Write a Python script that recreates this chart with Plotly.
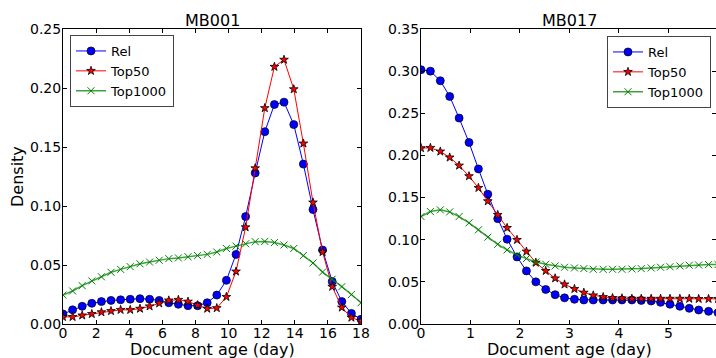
import plotly.graph_objects as go

# ---------------- data ----------------
age_mb001 = [0.0, 0.58, 1.16, 1.74, 2.32, 2.90, 3.48, 4.06, 4.65, 5.23, 5.81, 6.39,
             6.97, 7.55, 8.13, 8.71, 9.29, 9.87, 10.45, 11.03, 11.61, 12.19, 12.77,
             13.35, 13.94, 14.52, 15.10, 15.68, 16.26, 16.84, 17.42, 18.0]
rel_mb001 = [0.0085, 0.012, 0.015, 0.0175, 0.019, 0.020, 0.0205, 0.021, 0.0215, 0.021,
             0.020, 0.018, 0.0167, 0.0155, 0.0155, 0.018, 0.0245, 0.037, 0.059, 0.091,
             0.128, 0.163, 0.186, 0.188, 0.169, 0.1355, 0.097, 0.0627, 0.036, 0.019,
             0.009, 0.004]
top50_mb001 = [0.006, 0.006, 0.0073, 0.0085, 0.010, 0.011, 0.012, 0.012, 0.013, 0.015,
               0.0175, 0.020, 0.0205, 0.019, 0.016, 0.013, 0.0135, 0.023, 0.0445, 0.082,
               0.132, 0.183, 0.218, 0.224, 0.199, 0.153, 0.103, 0.061, 0.0316, 0.014,
               0.0054, 0.0025]
top1000_mb001 = [0.0245, 0.028, 0.0325, 0.0365, 0.040, 0.0438, 0.0463, 0.0486, 0.051,
                 0.0525, 0.054, 0.0554, 0.056, 0.057, 0.058, 0.059, 0.061, 0.064, 0.066,
                 0.068, 0.0698, 0.070, 0.069, 0.067, 0.064, 0.058, 0.0517, 0.044, 0.038,
                 0.0316, 0.025, 0.018]

age_mb017 = [0.0, 0.19, 0.39, 0.58, 0.77, 0.97, 1.16, 1.35, 1.55, 1.74, 1.94, 2.13,
             2.32, 2.52, 2.71, 2.90, 3.10, 3.29, 3.48, 3.68, 3.87, 4.06, 4.26, 4.45,
             4.65, 4.84, 5.03, 5.23, 5.42, 5.61, 5.81, 6.0]
rel_mb017 = [0.3017, 0.300, 0.2886, 0.270, 0.2443, 0.2154, 0.184, 0.154, 0.125, 0.1006,
             0.0796, 0.063, 0.050, 0.041, 0.0348, 0.031, 0.0293, 0.0285, 0.0285, 0.0285,
             0.0285, 0.0285, 0.0285, 0.028, 0.0273, 0.0257, 0.0234, 0.021, 0.0186,
             0.0166, 0.015, 0.0135]
top50_mb017 = [0.2087, 0.209, 0.2047, 0.1976, 0.188, 0.1754, 0.1615, 0.1457, 0.1295,
               0.114, 0.0998, 0.086, 0.0728, 0.063, 0.0542, 0.047, 0.0416, 0.0372, 0.034,
               0.032, 0.0309, 0.0305, 0.030, 0.030, 0.030, 0.030, 0.030, 0.030, 0.030,
               0.0298, 0.0298, 0.0298]
top1000_mb017 = [0.1275, 0.1334, 0.1354, 0.133, 0.1275, 0.120, 0.1117, 0.103, 0.0946,
                 0.0879, 0.082, 0.0776, 0.0736, 0.0709, 0.0689, 0.0673, 0.0665, 0.0657,
                 0.0649, 0.0649, 0.0649, 0.0649, 0.0653, 0.0657, 0.0665, 0.0673, 0.068,
                 0.0689, 0.0697, 0.070, 0.0705, 0.0705]

series_names = ["Rel", "Top50", "Top1000"]
panel_titles = ["MB001", "MB017"]
x_label = "Document age (day)"
y_label = "Density"

# ---------------- figure ----------------
W, H = 716, 358
FONT = "DejaVu Sans"
fig = go.Figure()

styles = [
    dict(mode="lines+markers", line=dict(color="#0000ff", width=1),
         marker=dict(symbol="circle", size=8, color="#0000ff",
                     line=dict(color="black", width=0.7))),
    dict(mode="lines+markers", line=dict(color="#ff0000", width=1),
         marker=dict(symbol="star", size=6.5, color="#ff0000",
                     line=dict(color="black", width=0.8))),
    dict(mode="lines+markers", line=dict(color="rgba(0,128,0,0.75)", width=1.5),
         marker=dict(symbol="x-thin-open", size=7, color="#008000",
                     line=dict(color="#008000", width=1))),
]

panels = [
    (age_mb001, [rel_mb001, top50_mb001, top1000_mb001], "x", "y", "legend"),
    (age_mb017, [rel_mb017, top50_mb017, top1000_mb017], "x2", "y2", "legend2"),
]
for xs, ys_list, xa, ya, lg in panels:
    for name, ys, st in zip(series_names, ys_list, styles):
        fig.add_trace(go.Scatter(x=xs, y=ys, name=name, xaxis=xa, yaxis=ya,
                                 legend=lg, **st))

# plot-area pixel geometry
L1, R1 = 63, 361
L2, R2 = 421, 716
T, B = 29, 324
ph = B - T

def px(xp):
    return xp / W

def py(yp):
    return (B - yp) / ph

axis_common = dict(showline=True, linecolor="black", linewidth=1, mirror="ticks",
                   ticks="inside", ticklen=4, tickcolor="black", tickwidth=1,
                   showgrid=False, zeroline=False,
                   tickfont=dict(family=FONT, size=14, color="black"))

fig.update_layout(
    width=W, height=H,
    margin=dict(l=0, r=0, t=T, b=H - B, autoexpand=False),
    paper_bgcolor="white", plot_bgcolor="white",
    font=dict(family=FONT, color="black"),
    xaxis=dict(domain=[px(L1), px(R1)], range=[0, 18], dtick=2, anchor="y",
               ticklabelstandoff=-4, **axis_common),
    yaxis=dict(domain=[0, 1], range=[0, 0.25], dtick=0.05, tickformat=".2f",
               anchor="x", ticklabelstandoff=-2, **axis_common),
    xaxis2=dict(domain=[px(L2), 1.0], range=[0, 5.96], dtick=1, anchor="y2",
                ticklabelstandoff=-4, **axis_common),
    yaxis2=dict(domain=[0, 1], range=[0, 0.35], dtick=0.05, tickformat=".2f",
                anchor="x2", ticklabelstandoff=-2, **axis_common),
    legend=dict(x=px(70), y=py(35), xanchor="left", yanchor="top",
                bgcolor="white", bordercolor="#444", borderwidth=1,
                font=dict(family=FONT, size=13, color="black"),
                tracegroupgap=0),
    legend2=dict(x=px(607), y=py(36), xanchor="left", yanchor="top",
                 bgcolor="white", bordercolor="#444", borderwidth=1,
                 font=dict(family=FONT, size=13, color="black"),
                 tracegroupgap=0),
    showlegend=True,
)

annotations = []
for (l, r), title in zip([(L1, R1), (L2, 718)], panel_titles):
    cx = (l + r) / 2
    annotations.append(dict(text=title, x=px(cx), y=py(20.5), xref="paper", yref="paper",
                            xanchor="center", yanchor="middle", showarrow=False,
                            font=dict(family=FONT, size=16, color="black")))
    annotations.append(dict(text=x_label, x=px(cx), y=py(349), xref="paper", yref="paper",
                            xanchor="center", yanchor="middle", showarrow=False,
                            font=dict(family=FONT, size=16, color="black")))
annotations.append(dict(text=y_label, x=px(17.5), y=py(176.5), xref="paper", yref="paper",
                        xanchor="center", yanchor="middle", showarrow=False, textangle=-90,
                        font=dict(family=FONT, size=16, color="black")))
fig.update_layout(annotations=annotations)

fig.write_html("out.html")
